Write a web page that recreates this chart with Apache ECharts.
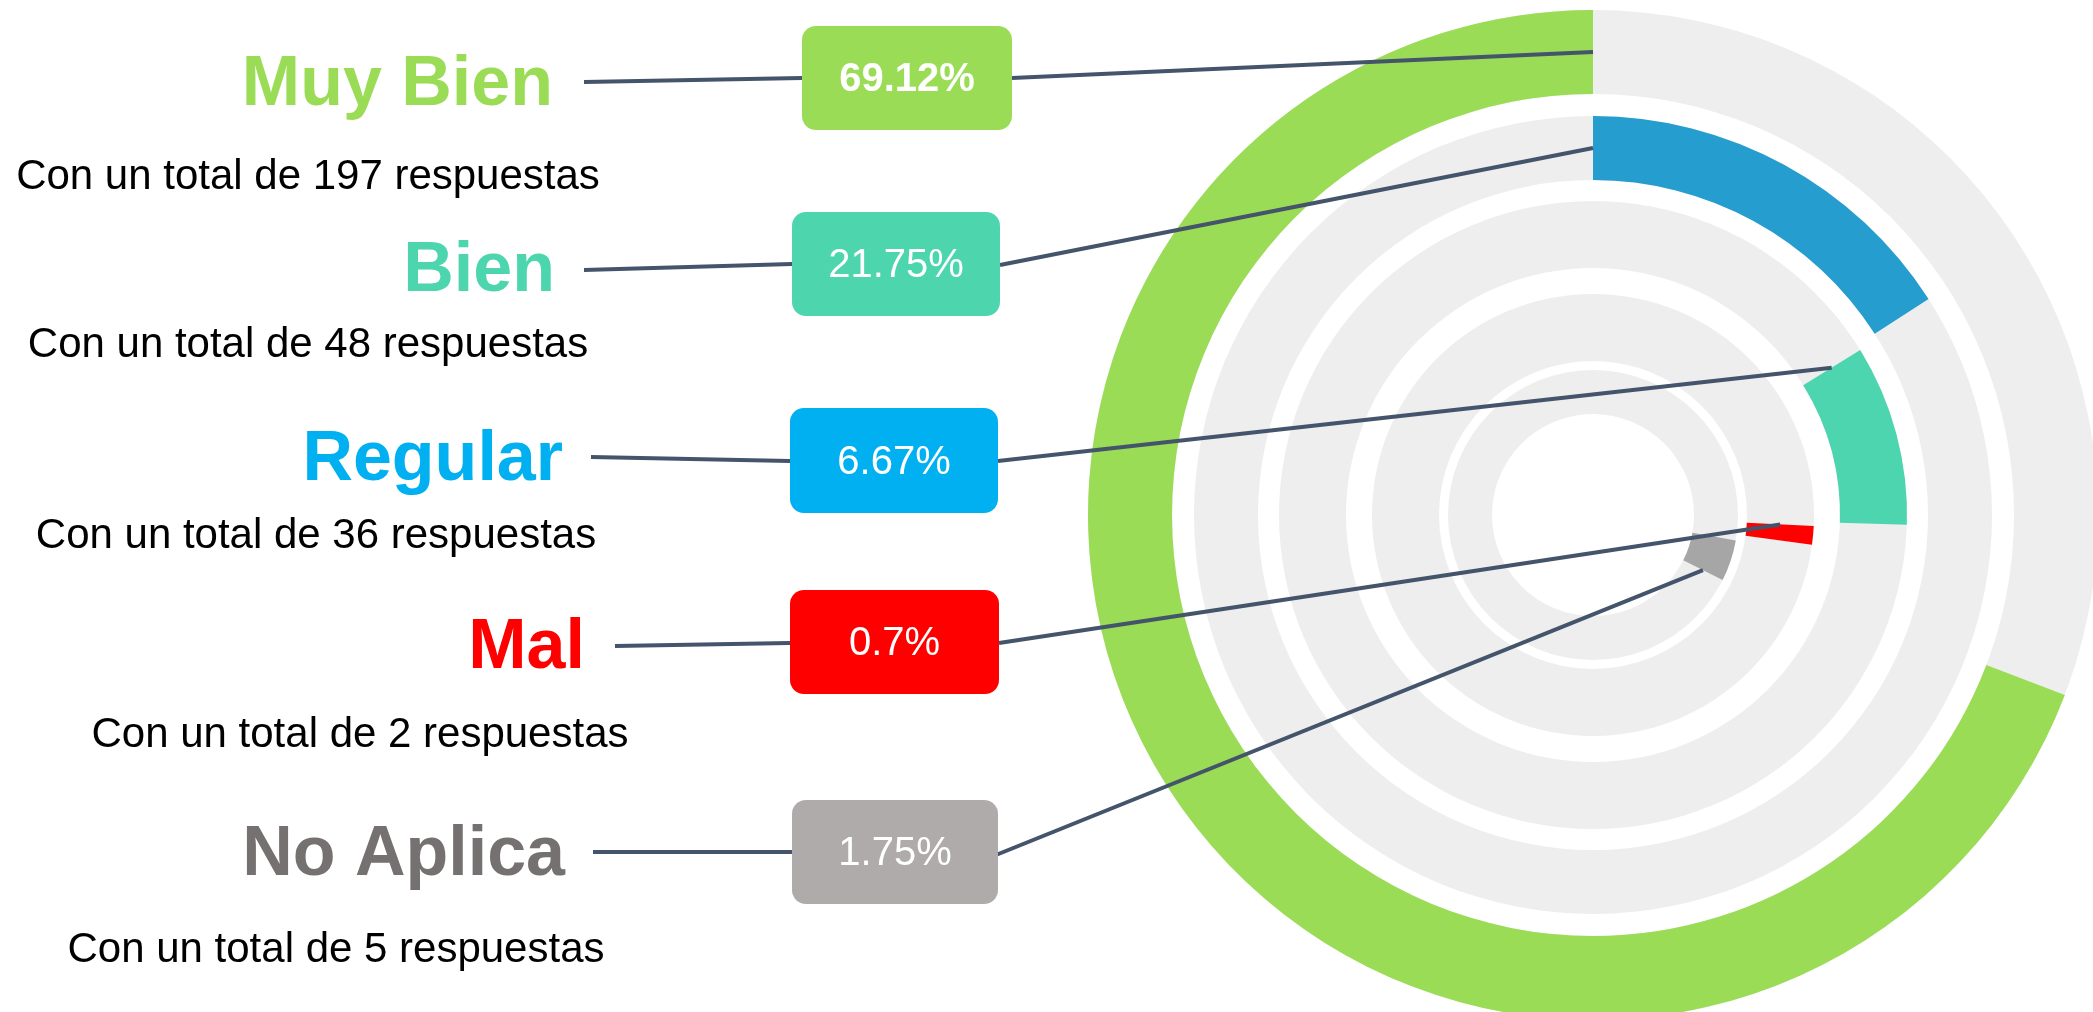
<!DOCTYPE html>
<html>
<head>
<meta charset="utf-8">
<title>Respuestas</title>
<script src="https://cdn.jsdelivr.net/npm/echarts@6/dist/echarts.min.js"></script>
<style>
  html, body { margin: 0; padding: 0; background: #fff; }
  #chart { width: 2093px; height: 1012px; }
</style>
</head>
<body>
<div id="chart"></div>
<script>
// datos
const categories = ['Muy Bien', 'Bien', 'Regular', 'Mal', 'No Aplica']
const percentLabels = ['69.12%', '21.75%', '6.67%', '0.7%', '1.75%']
const totals = [197, 48, 36, 2, 5]
// arco de cada anillo, en % de vuelta, sentido horario desde las 12
const ringStart = [30.8, 0, 16.2, 25.8, 27.8]
const ringSpan = [69.2, 15.9, 9.3, 1.35, 4.6]
// donde toca la linea guia dentro del arco (0 = inicio, 1 = fin)
const leaderAt = [1, 0, 0, 0, 1]

// estilos
const ringColors = ['#9BDC56', '#259DCE', '#4DD5B0', '#FF0000', '#A6A6A6']
const labelColors = ['#9BDC56', '#4DD5AE', '#00B0F0', '#FF0000', '#767171']
const boxColors = ['#9BDC56', '#4DD5AE', '#00B0F0', '#FF0000', '#AFABAB']
const ringRadius = [[421, 505], [335, 399], [247, 314], [154, 221], [101, 145]]
const center = [1593, 515]
const font = '"Liberation Sans", Arial, sans-serif'
const lineColor = '#44546A'

// posiciones de los textos de la izquierda
const rows = [
  { nameRight: 553, nameY: 86, subX: 308, subY: 177, box: [802, 26, 210, 104], l: [584, 82, 802, 78], r: [1012, 78] },
  { nameRight: 555, nameY: 272, subX: 308, subY: 345, box: [792, 212, 208, 104], l: [584, 270, 792, 264], r: [1000, 265] },
  { nameRight: 563, nameY: 461, subX: 316, subY: 536, box: [790, 408, 208, 105], l: [591, 457, 790, 461], r: [998, 461] },
  { nameRight: 585, nameY: 649, subX: 360, subY: 735, box: [790, 590, 209, 104], l: [615, 646, 790, 643], r: [999, 643] },
  { nameRight: 565, nameY: 856, subX: 336, subY: 950, box: [792, 800, 206, 104], l: [593, 852, 792, 852], r: [986, 859] }
]

const chart = echarts.init(document.getElementById('chart'))

const series = []
categories.forEach(function (name, i) {
  // fondo gris del anillo
  series.push({
    type: 'pie',
    silent: true,
    center: center,
    radius: ringRadius[i],
    label: { show: false },
    labelLine: { show: false },
    itemStyle: { color: '#EEEEEE', borderWidth: 0 },
    data: [{ value: 1, name: name + '-fondo' }],
    z: 1
  })
  // arco con color
  series.push({
    type: 'pie',
    silent: true,
    center: center,
    radius: ringRadius[i],
    startAngle: 90,
    clockwise: true,
    label: { show: false },
    labelLine: { show: false },
    itemStyle: { borderWidth: 0 },
    data: [
      { value: ringStart[i], itemStyle: { color: 'rgba(0,0,0,0)' } },
      { value: ringSpan[i], name: name, itemStyle: { color: ringColors[i] } },
      { value: Math.max(0, 100 - ringStart[i] - ringSpan[i]), itemStyle: { color: 'rgba(0,0,0,0)' } }
    ],
    z: 2
  })
})

const graphic = []
rows.forEach(function (row, i) {
  graphic.push({
    type: 'text',
    z: 100,
    style: {
      x: row.nameRight, y: row.nameY, text: categories[i],
      fill: labelColors[i], font: 'bold 70px ' + font,
      align: 'right', verticalAlign: 'middle'
    }
  })
  graphic.push({
    type: 'text',
    z: 100,
    style: {
      x: row.subX, y: row.subY, text: 'Con un total de ' + totals[i] + ' respuestas',
      fill: '#000', font: '42px ' + font,
      align: 'center', verticalAlign: 'middle'
    }
  })
  graphic.push({
    type: 'rect',
    z: 100,
    shape: { x: row.box[0], y: row.box[1], width: row.box[2], height: row.box[3], r: 14 },
    style: { fill: boxColors[i] }
  })
  graphic.push({
    type: 'text',
    z: 101,
    style: {
      x: row.box[0] + row.box[2] / 2, y: row.box[1] + row.box[3] / 2 + 2, text: percentLabels[i],
      fill: '#fff', font: (i === 0 ? 'bold ' : '') + '40px ' + font,
      align: 'center', verticalAlign: 'middle'
    }
  })
  graphic.push({
    type: 'line',
    z: 99,
    shape: { x1: row.l[0], y1: row.l[1], x2: row.l[2], y2: row.l[3] },
    style: { stroke: lineColor, lineWidth: 4 }
  })
  // punto del anillo al que apunta la guia
  const ang = (ringStart[i] + ringSpan[i] * leaderAt[i]) / 100 * 2 * Math.PI
  const rMid = (ringRadius[i][0] + ringRadius[i][1]) / 2
  graphic.push({
    type: 'line',
    z: 99,
    shape: {
      x1: row.r[0], y1: row.r[1],
      x2: center[0] + rMid * Math.sin(ang), y2: center[1] - rMid * Math.cos(ang)
    },
    style: { stroke: lineColor, lineWidth: 4 }
  })
})

chart.setOption({
  animation: false,
  backgroundColor: '#fff',
  series: series,
  graphic: graphic
})
</script>
</body>
</html>
